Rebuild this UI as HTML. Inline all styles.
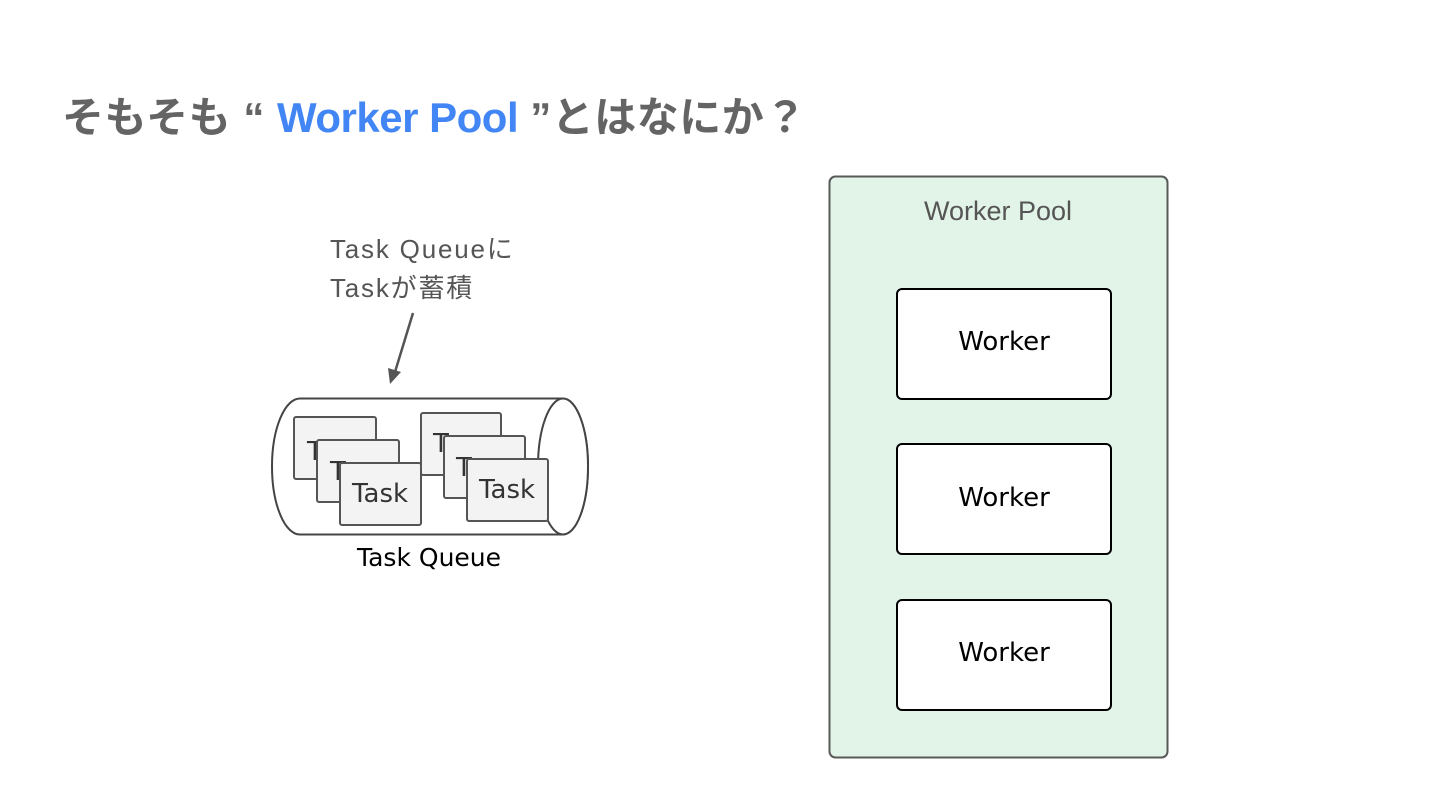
<!DOCTYPE html>
<html><head><meta charset="utf-8"><style>
body{margin:0;width:1440px;height:810px;background:#fff;position:relative;overflow:hidden;font-family:"Liberation Sans","Noto Sans CJK JP",sans-serif}
.t{position:absolute;white-space:nowrap}
</style></head><body>
<div class="t" style="left:62px;top:84px;font-size:42px;font-weight:bold;color:#646464;letter-spacing:0.5px">そもそも “ <span style="color:#4285f4;letter-spacing:-0.5px">Worker Pool</span> ”とはなにか？</div>
<svg width="1440" height="810" style="position:absolute;left:0;top:0">
<rect x="829.5" y="176.5" width="338" height="581" rx="6" fill="#e2f3e7" stroke="#595959" stroke-width="2"/>
<text x="998" y="220" font-size="27" fill="#555" text-anchor="middle" font-family="Liberation Sans, sans-serif">Worker Pool</text>
<g fill="#fff" stroke="#000" stroke-width="2">
<rect x="897" y="289" width="214" height="110" rx="5"/>
<rect x="897" y="444" width="214" height="110" rx="5"/>
<rect x="897" y="600" width="214" height="110" rx="5"/>
</g>
<g font-size="26" fill="#000" text-anchor="middle" font-family="DejaVu Sans, sans-serif">
<text x="1004" y="350">Worker</text><text x="1004" y="506">Worker</text><text x="1004" y="661">Worker</text>
</g>
<text x="330" y="258" font-size="26" letter-spacing="1.8" fill="#555" font-family="Liberation Sans, Noto Sans CJK JP, sans-serif">Task Queueに</text>
<text x="330" y="297" font-size="26" letter-spacing="1.8" fill="#555" font-family="Liberation Sans, Noto Sans CJK JP, sans-serif">Taskが蓄積</text>
<line x1="413" y1="313" x2="395" y2="372" stroke="#555" stroke-width="2.5"/>
<polygon points="390,384 388,368 401,372" fill="#555"/>
<path d="M300,398.5 H563 A25,68 0 0 1 563,534.5 H300 A28,68 0 0 1 300,398.5 Z" fill="#fff" stroke="#444" stroke-width="2"/>
<ellipse cx="563" cy="466.5" rx="25" ry="68" fill="#fff" stroke="#444" stroke-width="2"/>
<g fill="#f3f3f3" stroke="#555" stroke-width="2" font-family="DejaVu Sans, sans-serif">
<rect x="294" y="417" width="82" height="62" rx="2"/>
<text x="307" y="460" font-size="26" fill="#333" stroke="none">T</text>
<rect x="317" y="440" width="82" height="62" rx="2"/>
<text x="330" y="480" font-size="26" fill="#333" stroke="none">T</text>
<rect x="340" y="463" width="81" height="62" rx="2"/>
<text x="380" y="502" font-size="26" fill="#333" stroke="none" text-anchor="middle">Task</text>
<rect x="421" y="413" width="80" height="62" rx="2"/>
<text x="433" y="452" font-size="26" fill="#333" stroke="none">T</text>
<rect x="444" y="436" width="81" height="62" rx="2"/>
<text x="456" y="476" font-size="26" fill="#333" stroke="none">T</text>
<rect x="467" y="459" width="81" height="62" rx="2"/>
<text x="507" y="498" font-size="26" fill="#333" stroke="none" text-anchor="middle">Task</text>
</g>
<text x="429" y="566" font-size="25" fill="#000" text-anchor="middle" font-family="DejaVu Sans, sans-serif">Task Queue</text>
</svg>
</body></html>
